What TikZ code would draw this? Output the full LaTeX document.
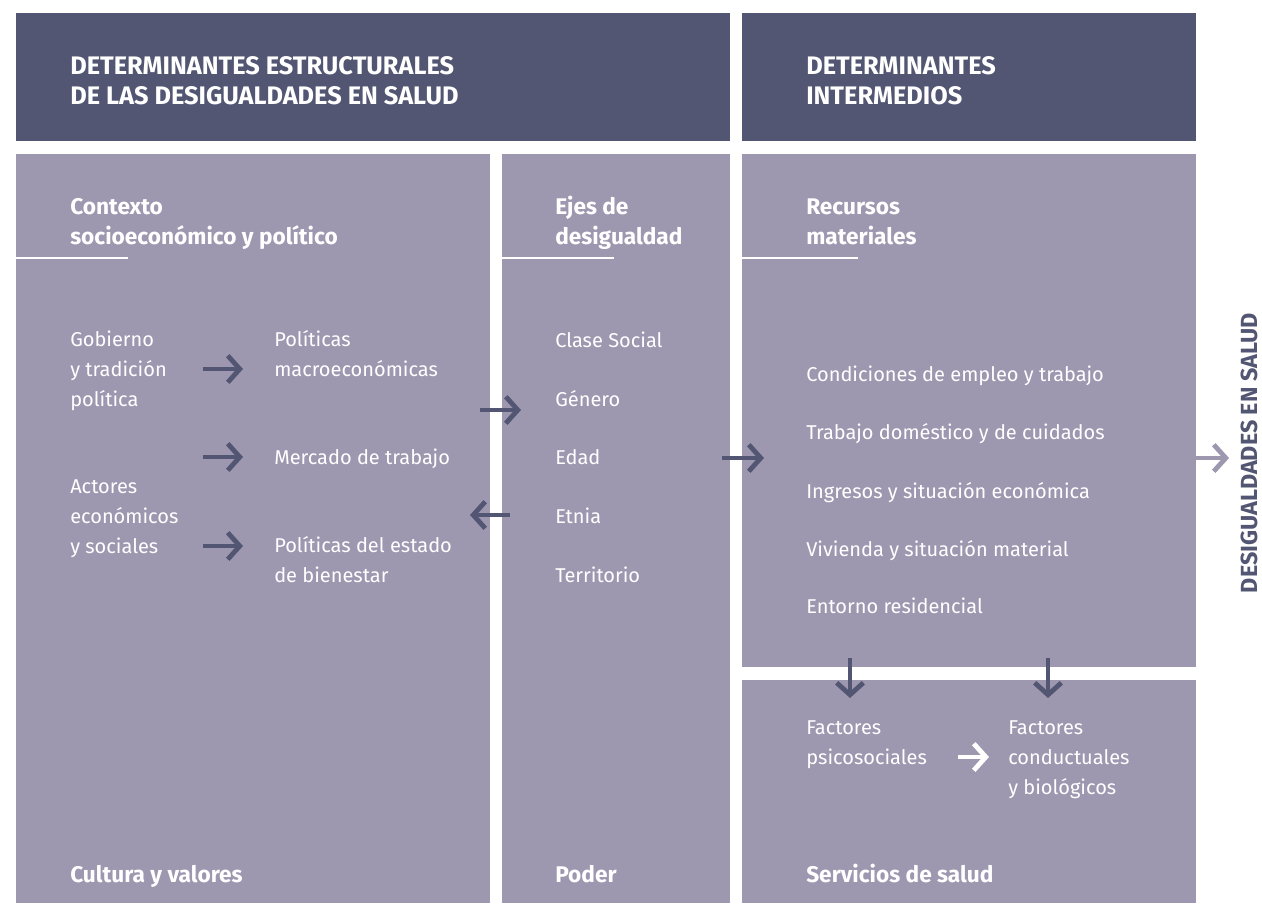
\documentclass[tikz,border=0pt]{standalone}
\usepackage{fontspec}
\setmainfont{Fira Sans}
\usetikzlibrary{arrows.meta}
\definecolor{oscuro}{HTML}{525672}
\definecolor{claro}{HTML}{9E97B0}
\tikzset{
  cabecera/.style={fill=oscuro},
  panel/.style={fill=claro},
  texto/.style={text=white,anchor=base west,inner sep=0pt,align=left,
    font=\fontsize{15}{22.2}\selectfont},
  titulo/.style={texto,font=\fontsize{17}{22.2}\selectfont\bfseries},
  mayus/.style={texto,font=\fontsize{19}{22.5}\selectfont\bfseries},
  raya/.style={draw=white,line width=1.5pt},
  flecha/.style={draw=oscuro,line width=3.6pt,
    -{Straight Barb[length=9pt,width=20pt,line width=3.6pt]}},
}
\begin{document}
\begin{tikzpicture}[x=0.75pt,y=-0.75pt]
\useasboundingbox (0,0) rectangle (1262,903);
% cajas
\fill[cabecera] (16,13) rectangle (730,141);
\fill[cabecera] (742,13) rectangle (1196,141);
\fill[panel] (16,154) rectangle (490,903);
\fill[panel] (502,154) rectangle (730,903);
\fill[panel] (742,154) rectangle (1196,667);
\fill[panel] (742,680) rectangle (1196,903);
% cabeceras (anclas en la ultima linea)
\node[mayus] (estr) at (70,104) {DETERMINANTES ESTRUCTURALES\\DE LAS DESIGUALDADES EN SALUD};
\node[mayus] (inter) at (806,104) {DETERMINANTES\\INTERMEDIOS};
% titulos de panel
\node[titulo] (contexto) at (70,244) {Contexto\\socioeconómico y político};
\node[titulo] (ejes) at (555,244) {Ejes de\\desigualdad};
\node[titulo] (recursos) at (806,244) {Recursos\\materiales};
\draw[raya] (16,258) -- (128,258);
\draw[raya] (502,258) -- (614,258);
\draw[raya] (742,258) -- (858,258);
% contexto
\node[texto] (gobierno) at (70,406) {Gobierno\\y tradición\\política};
\node[texto] (macro) at (274,376) {Políticas\\macroeconómicas};
\node[texto] (mercado) at (274,464) {Mercado de trabajo};
\node[texto] (actores) at (70,553) {Actores\\económicos\\y sociales};
\node[texto] (bienestar) at (274,582) {Políticas del estado\\de bienestar};
\coordinate (g1) at (203,369); \coordinate (g2) at (243,369);
\coordinate (m1) at (203,457); \coordinate (m2) at (243,457);
\coordinate (b1) at (203,546); \coordinate (b2) at (243,546);
\draw[flecha] (g1) -- (g2);
\draw[flecha] (m1) -- (m2);
\draw[flecha] (b1) -- (b2);
% ejes
\node[texto] (clase) at (555,347) {Clase Social};
\node[texto] (genero) at (555,406) {Género};
\node[texto] (edad) at (555,464) {Edad};
\node[texto] (etnia) at (555,523) {Etnia};
\node[texto] (territorio) at (555,582) {Territorio};
\coordinate (c1) at (480,410); \coordinate (c2) at (521,410);
\coordinate (e1) at (510,515); \coordinate (e2) at (470,515);
\draw[flecha] (c1) -- (c2);
\draw[flecha] (e1) -- (e2);
% recursos materiales
\node[texto] (empleo) at (806,381) {Condiciones de empleo y trabajo};
\node[texto] (domestico) at (806,439) {Trabajo doméstico y de cuidados};
\node[texto] (ingresos) at (806,498) {Ingresos y situación económica};
\node[texto] (vivienda) at (806,556) {Vivienda y situación material};
\node[texto] (entorno) at (806,613) {Entorno residencial};
\coordinate (r1) at (722,458); \coordinate (r2) at (764,458);
\draw[flecha] (r1) -- (r2);
% factores
\node[texto] (psico) at (806,764) {Factores\\psicosociales};
\node[texto] (conduct) at (1008,794) {Factores\\conductuales\\y biológicos};
\coordinate (d1) at (850,658); \coordinate (d2) at (850,698);
\coordinate (d3) at (1048,658); \coordinate (d4) at (1048,698);
\coordinate (f1) at (958,757); \coordinate (f2) at (989,757);
\draw[flecha] (d1) -- (d2);
\draw[flecha] (d3) -- (d4);
\draw[flecha,draw=white] (f1) -- (f2);
% pie
\node[titulo] (cultura) at (70,882) {Cultura y valores};
\node[titulo] (poder) at (555,882) {Poder};
\node[titulo] (servicios) at (806,882) {Servicios de salud};
% salida
\coordinate (s1) at (1196,458); \coordinate (s2) at (1229,458);
\draw[flecha,draw=claro] (s1) -- (s2);
\node[mayus,text=oscuro,anchor=base,rotate=90,font=\fontsize{17.5}{20}\selectfont\bfseries] (desig) at (1257,453) {DESIGUALDADES EN SALUD};
\end{tikzpicture}
\end{document}
